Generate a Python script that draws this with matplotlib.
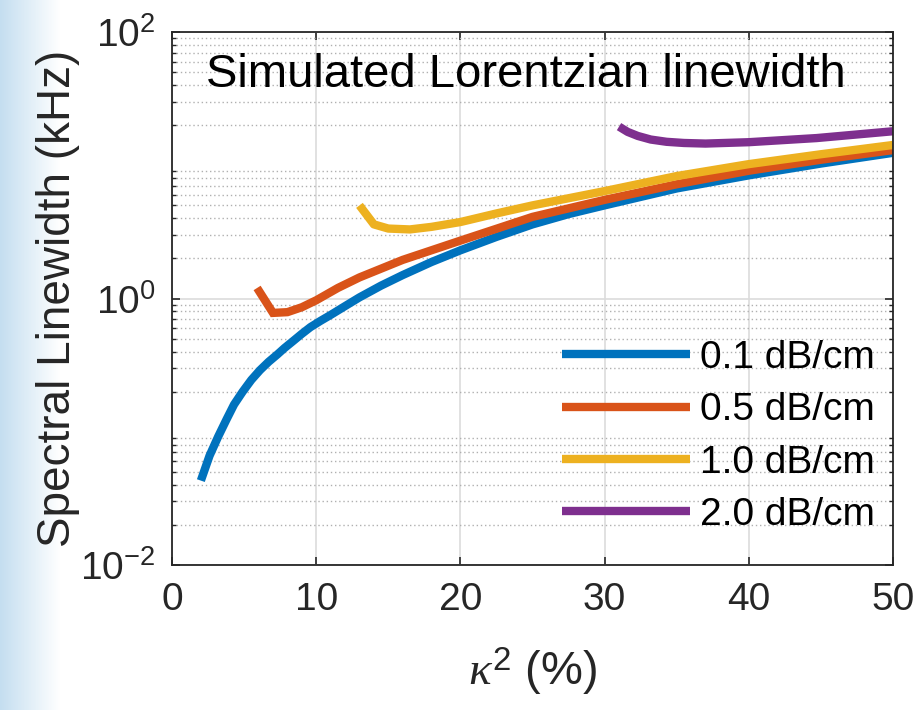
import matplotlib
matplotlib.use('Agg')
import matplotlib.pyplot as plt
import numpy as np

plt.rcParams['font.family'] = ['Liberation Sans', 'DejaVu Sans']
plt.rcParams['mathtext.fontset'] = 'custom'
plt.rcParams['mathtext.rm'] = 'Liberation Sans'
plt.rcParams['mathtext.it'] = 'Liberation Serif:italic'

# kappa^2 (%) vs spectral linewidth (kHz)
x_01 = [2, 2.6, 3.2, 3.8, 4.3, 4.9, 5.5, 6.1, 6.7, 7.3, 7.8, 8.4, 9.0, 9.6, 10.3, 11, 12,
        13, 14.5, 16, 18, 20, 22.5, 25, 27.5, 30, 35, 40, 45, 50]
y_01 = [0.043, 0.066, 0.092, 0.125, 0.16, 0.2, 0.245, 0.29, 0.335, 0.38, 0.425, 0.48,
        0.543, 0.61, 0.68, 0.753, 0.877, 1.02, 1.25, 1.5, 1.88, 2.3, 2.9, 3.6, 4.3, 5.0,
        6.7, 8.4, 10.3, 12.4]

x_05 = [5.9, 7, 8, 9, 10, 11.5, 13, 16, 20, 25, 30, 35, 40, 45, 50]
y_05 = [1.2, 0.78, 0.79, 0.86, 0.97, 1.2, 1.44, 1.95, 2.72, 4.1, 5.5, 7.2, 9.1, 11.0, 13.0]

x_10 = [13, 14, 15, 16.5, 18, 20, 22.5, 25, 30, 35, 40, 45, 50]
y_10 = [5.0, 3.6, 3.35, 3.3, 3.45, 3.75, 4.35, 5.0, 6.4, 8.3, 10.2, 12.1, 14.2]

x_20 = [31, 31.6, 32.3, 33.2, 34.3, 35.5, 37, 40, 44.7, 50]
y_20 = [19.5, 17.8, 16.6, 15.6, 15.0, 14.7, 14.55, 14.9, 16.0, 18.0]

labels = ['0.1 dB/cm', '0.5 dB/cm', '1.0 dB/cm', '2.0 dB/cm']
colors = ['#0072BD', '#D95319', '#EDB120', '#7E2F8E']
joins = ['round', 'miter', 'round', 'round']

fig = plt.figure(figsize=(9.17, 7.10), dpi=100)

# light blue background strip on the left edge
bg = fig.add_axes([0, 0, 0.065, 1], zorder=-5)
grad = np.linspace(1, 0, 100).reshape(1, -1)
bg.imshow(grad, aspect='auto', cmap=matplotlib.colors.LinearSegmentedColormap.from_list(
    'bg', ['#ffffff', '#c4def0']), extent=[0, 1, 0, 1])
bg.axis('off')

ax = fig.add_axes([0.1876, 0.2042, 0.7862, 0.7507])

for xs, ys, c, lab, j in zip([x_01, x_05, x_10, x_20], [y_01, y_05, y_10, y_20],
                             colors, labels, joins):
    ax.plot(xs, ys, color=c, lw=6, label=lab, solid_capstyle='butt', solid_joinstyle=j)

ax.set_yscale('log')
ax.set_xlim(0, 50)
ax.set_ylim(1e-2, 1e2)
ax.set_xticks([0, 10, 20, 30, 40, 50])
ax.set_yticks([1e-2, 1e0, 1e2])

ax.grid(True, which='major', color='#dcdcdc', lw=1.2, ls='-')
ax.grid(True, which='minor', axis='y', color='#b0b0b0', lw=1.0, ls=(0, (1, 2)))
ax.set_axisbelow(True)

ax.tick_params(which='both', direction='in', top=True, right=True, colors='#262626',
               labelsize=28, labelcolor='#262626')
ax.tick_params(which='major', length=6, width=1.2, pad=12)
ax.tick_params(which='minor', length=3, width=1.0)
for s in ax.spines.values():
    s.set_color('#262626')
    s.set_linewidth(1.3)

ax.set_ylabel('Spectral Linewidth (kHz)', fontsize=33, color='#262626', labelpad=0)
ax.set_xlabel(r'$\mathit{\kappa}^{2}$ (%)', fontsize=34, color='#262626', labelpad=20)

ax.text(0.491, 0.919, 'Simulated Lorentzian linewidth', transform=ax.transAxes,
        fontsize=34, ha='center', va='center', color='black')

ax.legend(loc='lower right', bbox_to_anchor=(0.975, 0.06), frameon=False, fontsize=28,
          handlelength=3.3, handletextpad=0.25, labelspacing=0.42, borderpad=0,
          borderaxespad=0)

fig.savefig('out.png', dpi=100)
